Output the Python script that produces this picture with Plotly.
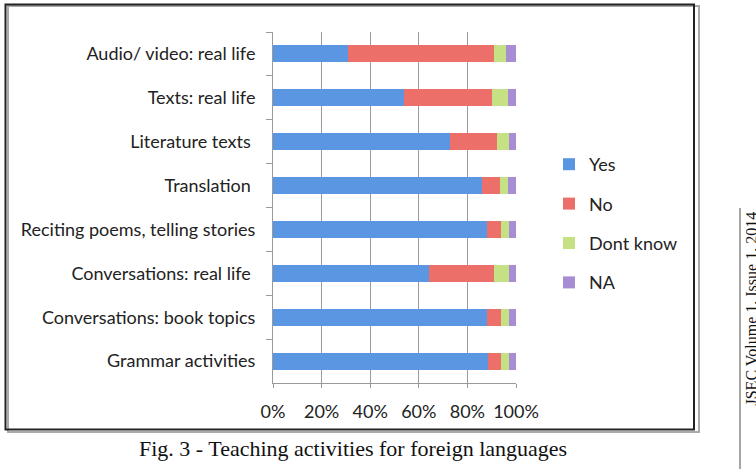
import plotly.graph_objects as go

categories = ["Audio/ video: real life", "Texts: real life", "Literature texts ",
              "Translation ", "Reciting poems, telling stories", "Conversations: real life ",
              "Conversations: book topics", "Grammar activities"]
yes = [31, 54, 73, 86, 88, 64, 88, 88.5]
no = [60, 36, 19, 7.5, 6, 27, 6, 5.5]
dont_know = [5, 6.5, 5, 3, 3, 6, 3, 3]
na = [4, 3.5, 3, 3.5, 3, 3, 3, 3]
series_names = ["Yes", "No", "Dont know", "NA"]
tick_vals = [0, 20, 40, 60, 80, 100]
tick_text = ["0%", "20%", "40%", "60%", "80%", "100%"]
caption = "Fig. 3 - Teaching activities for foreign languages"
side_text = "JSEC Volume 1, Issue 1, 2014"

W, H = 756, 470
def px(x):
    return x / W
def py(y):
    return 1 - y / H

colors = ["#5A96E2", "#EC6F6A", "#C5E184", "#A88DD4"]
font_sans = "Lato, 'Open Sans', sans-serif"

fig = go.Figure()
for name, vals, col in zip(series_names, [yes, no, dont_know, na], colors):
    fig.add_trace(go.Bar(y=categories, x=vals, name=name, orientation="h",
                         marker=dict(color=col, line=dict(width=0)),
                         legendgroup=name))

fig.update_layout(
    template="none",
    width=W, height=H, autosize=False,
    margin=dict(l=0, r=0, t=0, b=0, pad=0, autoexpand=False),
    paper_bgcolor="white", plot_bgcolor="white",
    barmode="stack", bargap=0.61,
    font=dict(family=font_sans, size=18, color="#222"),
    showlegend=True,
    legend=dict(x=px(549), y=py(146), xanchor="left", yanchor="top",
                traceorder="grouped", tracegroupgap=13,
                font=dict(family=font_sans, size=18, color="#222"),
                bgcolor="rgba(0,0,0,0)", itemwidth=30),
    xaxis=dict(domain=[px(273), px(516)], range=[0, 100], automargin=False,
               tickvals=tick_vals, ticktext=tick_text,
               showgrid=True, gridcolor="#9a9a9a", gridwidth=1,
               showline=True, linecolor="#9a9a9a", linewidth=1,
               ticks="outside", ticklen=4, tickcolor="#9a9a9a",
               ticklabelstandoff=8, zeroline=False, fixedrange=True),
    yaxis=dict(domain=[py(383), py(32)], autorange="reversed", automargin=False,
               type="category",
               showgrid=False, showline=True, linecolor="#9a9a9a", linewidth=1,
               ticks="outside", ticklen=6, tickcolor="#9a9a9a",
               tickson="boundaries", ticklabelstandoff=13, fixedrange=True),
)

# frame of the figure (double border with shadow)
fig.add_shape(type="rect", xref="paper", yref="paper",
              x0=px(8), y0=py(432), x1=px(699), y1=py(6),
              line=dict(color="#aaaaaa", width=2), layer="below")
fig.add_shape(type="rect", xref="paper", yref="paper",
              x0=px(5.5), y0=py(429.5), x1=px(694), y1=py(4.5),
              line=dict(color="#222222", width=2), layer="below")
# side vertical rule
fig.add_shape(type="line", xref="paper", yref="paper",
              x0=px(740), y0=py(208), x1=px(740), y1=py(469),
              line=dict(color="#888888", width=1.5))

fig.add_annotation(text=caption, xref="paper", yref="paper",
                   x=px(353), y=py(448), xanchor="center", yanchor="middle",
                   showarrow=False,
                   font=dict(family="'Liberation Serif', 'Times New Roman', serif", size=22, color="#111"))
fig.add_annotation(text=side_text, xref="paper", yref="paper",
                   x=px(740), y=py(210), xanchor="left", yanchor="top",
                   textangle=-90, showarrow=False,
                   font=dict(family="'Liberation Serif', 'Times New Roman', serif", size=16, color="#111"))

fig.write_html("out.html")
